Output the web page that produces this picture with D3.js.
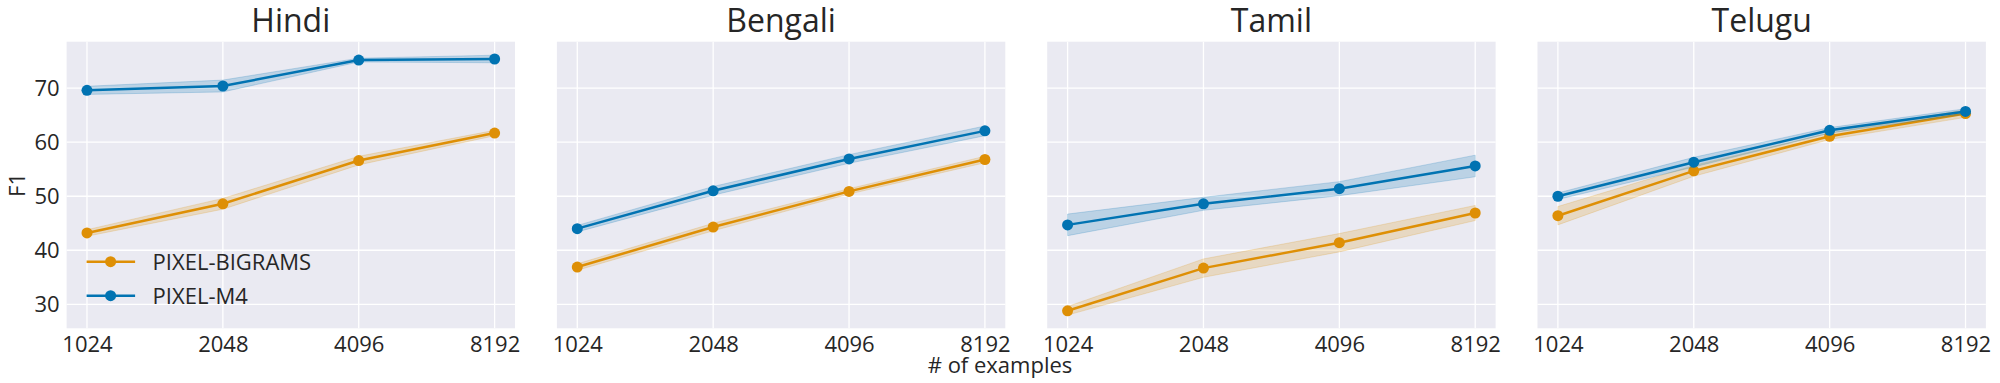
<!DOCTYPE html>
<html>
<head>
<meta charset="utf-8">
<script src="https://cdn.jsdelivr.net/npm/d3@7"></script>
<style>
  body { margin: 0; background: #fff; }
  text { font-family: "Open Sans", "Noto Sans", sans-serif; fill: #262626; }
</style>
</head>
<body>
<script>
var languages = ["Hindi", "Bengali", "Tamil", "Telugu"];
var sizes = [1024, 2048, 4096, 8192];
var yTicks = [30, 40, 50, 60, 70];
var seriesNames = ["PIXEL-BIGRAMS", "PIXEL-M4"];

// mean F1 per language (rows) and size (cols)
var bigramsMean = [[43.2, 48.6, 56.6, 61.7],
                   [36.9, 44.3, 50.9, 56.8],
                   [28.8, 36.7, 41.4, 46.9],
                   [46.4, 54.7, 61.1, 65.3]];
var bigramsErr  = [[0.6, 1.0, 0.8, 0.5],
                   [0.6, 0.7, 0.5, 0.6],
                   [0.8, 1.7, 1.7, 1.4],
                   [1.7, 1.0, 0.6, 0.7]];
var m4Mean      = [[69.6, 70.4, 75.2, 75.4],
                   [44.0, 51.0, 56.9, 62.1],
                   [44.7, 48.6, 51.4, 55.6],
                   [50.0, 56.3, 62.2, 65.7]];
var m4Err       = [[0.75, 1.1, 0.35, 0.7],
                   [0.6, 0.8, 0.8, 0.9],
                   [2.0, 1.2, 1.3, 2.0],
                   [0.6, 0.9, 0.5, 0.5]];

var colors = ["#de8f05", "#0173b2"];

var width = 2000, height = 383,
    panelW = 448.4, panelStep = 490.3, left0 = 66.6,
    plotTop = 41.7, plotBottom = 328.3;

var svg = d3.select("body").append("svg")
            .attr("width", width)
            .attr("height", height);

var x = d3.scaleLog().base(2)
          .domain([Math.pow(2, 9.85), Math.pow(2, 13.15)])
          .range([0, panelW]);
var y = d3.scaleLinear().domain([25.56, 78.6]).range([plotBottom, plotTop]);

languages.forEach(function(lang, li) {
  var g = svg.append("g")
             .attr("transform", "translate(" + (left0 + li * panelStep) + ",0)");

  g.append("rect")
   .attr("x", 0).attr("y", plotTop)
   .attr("width", panelW).attr("height", plotBottom - plotTop)
   .attr("fill", "#eaeaf2");

  // grid
  g.selectAll(".hg").data(yTicks).enter().append("line")
   .attr("x1", 0).attr("x2", panelW)
   .attr("y1", function(d){ return y(d); })
   .attr("y2", function(d){ return y(d); })
   .attr("stroke", "#fff").attr("stroke-width", 1.3);
  g.selectAll(".vg").data(sizes).enter().append("line")
   .attr("y1", plotTop).attr("y2", plotBottom)
   .attr("x1", function(d){ return x(d); })
   .attr("x2", function(d){ return x(d); })
   .attr("stroke", "#fff").attr("stroke-width", 1.3);

  // x axis
  var xa = g.append("g")
            .attr("transform", "translate(0," + plotBottom + ")")
            .call(d3.axisBottom(x).tickValues(sizes).tickFormat(d3.format("d")).tickSize(0).tickPadding(0));
  xa.select(".domain").remove();
  xa.selectAll("text")
    .attr("dy", null).attr("y", 23.4)
    .style("font-size", "22px").attr("fill", "#262626");

  if (li === 0) {
    var ya = g.append("g")
              .call(d3.axisLeft(y).tickValues(yTicks).tickSize(0).tickPadding(7));
    ya.select(".domain").remove();
    ya.selectAll("text").style("font-size", "22px").attr("fill", "#262626");
  }

  g.append("text")
   .attr("x", panelW / 2).attr("y", 32)
   .attr("text-anchor", "middle")
   .style("font-size", "32px")
   .text(lang);

  var sets = [[bigramsMean[li], bigramsErr[li]], [m4Mean[li], m4Err[li]]];
  sets.forEach(function(s, si) {
    var pts = sizes.map(function(n, i){ return {n: n, v: s[0][i], e: s[1][i]}; });
    var area = d3.area()
                 .x(function(d){ return x(d.n); })
                 .y0(function(d){ return y(d.v - d.e); })
                 .y1(function(d){ return y(d.v + d.e); });
    g.append("path")
     .attr("d", area(pts))
     .attr("fill", colors[si]).attr("fill-opacity", 0.2)
     .attr("stroke", colors[si]).attr("stroke-opacity", 0.2);
    var line = d3.line()
                 .x(function(d){ return x(d.n); })
                 .y(function(d){ return y(d.v); });
    g.append("path")
     .attr("d", line(pts))
     .attr("fill", "none")
     .attr("stroke", colors[si]).attr("stroke-width", 2.5);
    g.selectAll(".pt" + si).data(pts).enter().append("circle")
     .attr("cx", function(d){ return x(d.n); })
     .attr("cy", function(d){ return y(d.v); })
     .attr("r", 5.5)
     .attr("fill", colors[si]);
  });

  if (li === 0) {
    var lg = g.append("g");
    seriesNames.forEach(function(name, si) {
      var ly = 261.7 + si * 34;
      lg.append("line")
        .attr("x1", 20).attr("x2", 68.5).attr("y1", ly).attr("y2", ly)
        .attr("stroke", colors[si]).attr("stroke-width", 2.5);
      lg.append("circle").attr("cx", 44).attr("cy", ly).attr("r", 5.5).attr("fill", colors[si]);
      lg.append("text")
        .attr("x", 86).attr("y", ly + 8)
        .style("font-size", "22px")
        .text(name);
    });
  }
});

svg.append("text")
   .attr("transform", "translate(25,185) rotate(-90)")
   .attr("text-anchor", "middle")
   .style("font-size", "22px")
   .text("F1");

svg.append("text")
   .attr("x", 1000).attr("y", 373)
   .attr("text-anchor", "middle")
   .style("font-size", "22px")
   .text("# of examples");
</script>
</body>
</html>
